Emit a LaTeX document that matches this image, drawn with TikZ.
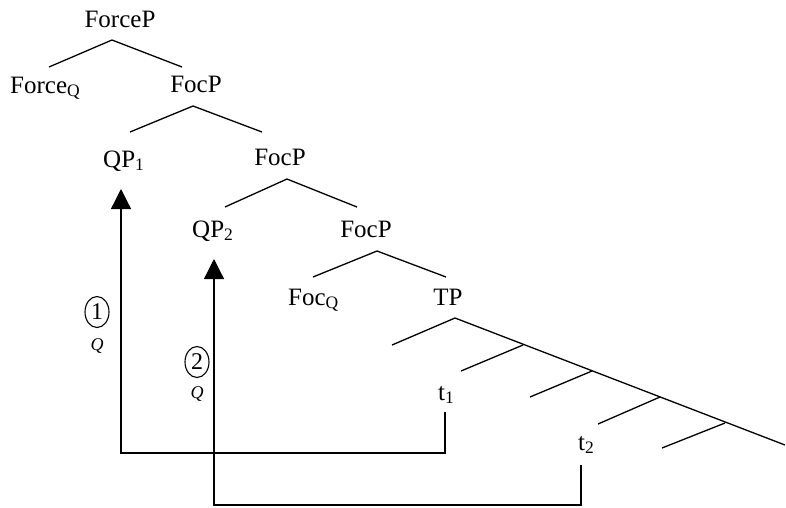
\documentclass[tikz,border=0pt]{standalone}
\usepackage{fontspec}
\setmainfont{Liberation Serif}
\usetikzlibrary{arrows.meta,shapes.geometric}
\begin{document}
\begin{tikzpicture}[x=1pt,y=-1pt,
  lbl/.style={inner sep=0pt,font=\fontsize{25}{30}\selectfont},
  br/.style={line width=1.3pt},
  mv/.style={line width=1.3pt,-{Triangle[width=20pt,length=20pt]}},
  num/.style={ellipse,draw,line width=1.1pt,minimum width=24pt,minimum height=31pt,inner sep=0pt,font=\fontsize{24}{28}\selectfont},
  qlab/.style={inner sep=0pt,font=\fontsize{18}{20}\selectfont\itshape}]
\useasboundingbox (0,0) rectangle (786,507);
% labels
\node[lbl,anchor=base] (forcep) at (120,27) {ForceP};
\node[lbl,anchor=base west] (forceq) at (10,93) {Force\textsubscript{Q}};
\node[lbl,anchor=base] (focp1) at (196,92) {FocP};
\node[lbl,anchor=base west] (qp1) at (103,167) {QP\textsubscript{1}};
\node[lbl,anchor=base] (focp2) at (280,165) {FocP};
\node[lbl,anchor=base west] (qp2) at (192,237) {QP\textsubscript{2}};
\node[lbl,anchor=base] (focp3) at (366,237) {FocP};
\node[lbl,anchor=base west] (focq) at (288,305) {Foc\textsubscript{Q}};
\node[lbl,anchor=base] (tp) at (448,305) {TP};
\node[lbl,anchor=base west] (t1) at (438,400) {t\textsubscript{1}};
\node[lbl,anchor=base west] (t2) at (578,450) {t\textsubscript{2}};
% branch points
\coordinate (a0) at (112,40);  \coordinate (l0) at (49,67);   \coordinate (r0) at (182,67);
\coordinate (a1) at (193,106); \coordinate (l1) at (130,132); \coordinate (r1) at (262,132);
\coordinate (a2) at (287,179); \coordinate (l2) at (225,207); \coordinate (r2) at (357,207);
\coordinate (a3) at (377,251); \coordinate (l3) at (313,277); \coordinate (r3) at (446,277);
\coordinate (a4) at (455,318); \coordinate (l4) at (392,345);
\coordinate (d1) at (523,345); \coordinate (e1) at (461,371);
\coordinate (d2) at (592,371); \coordinate (e2) at (530,397);
\coordinate (d3) at (660,397); \coordinate (e3) at (598,424);
\coordinate (d4) at (725,423); \coordinate (e4) at (662,448);
\coordinate (dend) at (785,445);
\draw[br] (l0) -- (a0) -- (r0);
\draw[br] (l1) -- (a1) -- (r1);
\draw[br] (l2) -- (a2) -- (r2);
\draw[br] (l3) -- (a3) -- (r3);
\draw[br] (l4) -- (a4) -- (dend);
\draw[br] (e1) -- (d1);
\draw[br] (e2) -- (d2);
\draw[br] (e3) -- (d3);
\draw[br] (e4) -- (d4);
% movement arrows
\coordinate (t1foot) at (445,412); \coordinate (t1low) at (445,453);
\coordinate (q1low) at (121,453);  \coordinate (q1tip) at (121,189);
\coordinate (t2foot) at (581,465); \coordinate (t2low) at (581,505);
\coordinate (q2low) at (214,505);  \coordinate (q2tip) at (214,259);
\draw[mv] (t1foot) -- (t1low) -- (q1low) -- (q1tip);
\draw[mv] (t2foot) -- (t2low) -- (q2low) -- (q2tip);
% step labels
\node[num] (n1) at (97,312) {1};
\node[qlab] (qa) at (97,346) {Q};
\node[num] (n2) at (197,362) {2};
\node[qlab] (qb) at (197,394) {Q};
\end{tikzpicture}
\end{document}
